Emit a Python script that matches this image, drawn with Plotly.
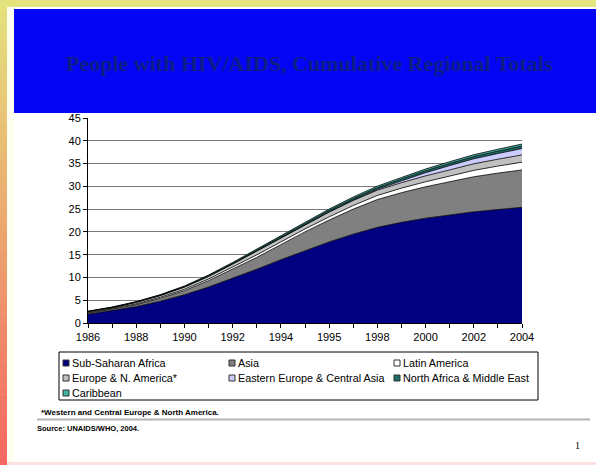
import plotly.graph_objects as go

# ---- data (millions of people living with HIV/AIDS) ----
years = list(range(1986, 2005))
tick_labels = ["1986", "", "1988", "", "1990", "", "1992", "", "1994", "",
               "1995", "", "1998", "", "2000", "", "2002", "", "2004"]

sub_saharan = [1.9, 2.7, 3.6, 4.8, 6.2, 7.9, 9.8, 11.8, 13.9, 15.9,
               17.8, 19.5, 21.0, 22.1, 23.0, 23.7, 24.4, 24.9, 25.4]
asia = [0.2, 0.3, 0.4, 0.6, 0.9, 1.4, 2.0, 2.6, 3.3, 4.1,
        4.8, 5.5, 6.1, 6.5, 6.9, 7.3, 7.7, 8.0, 8.2]
latin_america = [0.15, 0.15, 0.2, 0.25, 0.3, 0.35, 0.45, 0.55, 0.6, 0.65,
                 0.7, 0.8, 0.9, 1.0, 1.1, 1.25, 1.4, 1.55, 1.7]
europe_na = [0.25, 0.25, 0.35, 0.4, 0.5, 0.6, 0.7, 0.85, 0.95, 1.0,
             1.05, 1.1, 1.15, 1.2, 1.3, 1.35, 1.45, 1.5, 1.6]
eastern_europe = [0.0, 0.0, 0.0, 0.0, 0.0, 0.0, 0.0, 0.01, 0.02, 0.03,
                  0.05, 0.1, 0.2, 0.4, 0.7, 0.95, 1.1, 1.25, 1.4]
north_africa = [0.05, 0.05, 0.07, 0.08, 0.1, 0.13, 0.15, 0.19, 0.23, 0.26,
                0.3, 0.33, 0.35, 0.38, 0.42, 0.45, 0.48, 0.51, 0.54]
caribbean = [0.05, 0.05, 0.08, 0.1, 0.12, 0.15, 0.2, 0.22, 0.25, 0.28,
             0.3, 0.32, 0.34, 0.36, 0.38, 0.4, 0.41, 0.43, 0.44]

series_names = ["Sub-Saharan Africa", "Asia", "Latin America",
                "Europe & N. America*", "Eastern Europe & Central Asia",
                "North Africa & Middle East", "Caribbean"]
series_values = [sub_saharan, asia, latin_america, europe_na,
                 eastern_europe, north_africa, caribbean]
series_colors = ["#000080", "#808080", "#FFFFFF", "#C0C0C0",
                 "#CCCCFF", "#1E6B68", "#3FB3A4"]

W, H = 596, 465
L, R, T, B = 88, 522, 118, 323  # plot area in pixels


def px(x):
    return (x - L) / (R - L)


def py(y):
    return (B - y) / (B - T)


fig = go.Figure()
for name, vals, col in zip(series_names, series_values, series_colors):
    fig.add_trace(go.Scatter(
        x=years, y=vals, name=name, mode="lines", stackgroup="hiv",
        line=dict(color="black", width=0.8), fillcolor=col,
        showlegend=False, hoverinfo="x+y+name"))

shapes = []
# page decoration: top band, left gradient band, bottom band
shapes.append(dict(type="rect", xref="paper", yref="paper", layer="below",
                   x0=px(0), x1=px(W), y0=py(7), y1=py(0),
                   fillcolor="#E4E47E", line=dict(width=0)))
shapes.append(dict(type="rect", xref="paper", yref="paper", layer="below",
                   x0=px(7), x1=px(14), y0=py(H), y1=py(7),
                   fillcolor="#FDFDF0", line=dict(width=0)))
top_c, bot_c = (0xE4, 0xE2, 0x7C), (0xF4, 0x68, 0x62)
n_steps = 46
for i in range(n_steps):
    t = i / (n_steps - 1)
    c = tuple(round(a + (b - a) * t) for a, b in zip(top_c, bot_c))
    y0 = i * H / n_steps
    y1 = (i + 1) * H / n_steps + 0.5
    shapes.append(dict(type="rect", xref="paper", yref="paper", layer="below",
                       x0=px(0), x1=px(7), y0=py(y1), y1=py(y0),
                       fillcolor="rgb(%d,%d,%d)" % c, line=dict(width=0)))
shapes.append(dict(type="rect", xref="paper", yref="paper", layer="below",
                   x0=px(7), x1=px(W), y0=py(H), y1=py(462),
                   fillcolor="#FBE2DE", line=dict(width=0)))
# title banner
shapes.append(dict(type="rect", xref="paper", yref="paper", layer="below",
                   x0=px(14), x1=px(W + 2), y0=py(113), y1=py(9),
                   fillcolor="#0505F5", line=dict(width=0)))
# legend frame
shapes.append(dict(type="rect", xref="paper", yref="paper",
                   x0=px(59), x1=px(538), y0=py(400), y1=py(352),
                   fillcolor="white", line=dict(color="black", width=1)))
# footnote separator
shapes.append(dict(type="line", xref="paper", yref="paper",
                   x0=px(37), x1=px(590), y0=py(419.5), y1=py(419.5),
                   line=dict(color="#B4B4B4", width=2)))

annotations = [
    dict(text="<b>People with HIV/AIDS, Cumulative Regional Totals</b>",
         xref="paper", yref="paper", x=px(309), y=py(63),
         xanchor="center", yanchor="middle", showarrow=False,
         font=dict(family="Liberation Serif", size=22, color="#0D1F86")),
    dict(text="<b>*Western and Central Europe & North America.</b>",
         xref="paper", yref="paper", x=px(39), y=py(412),
         xanchor="left", yanchor="middle", showarrow=False,
         font=dict(family="Liberation Sans", size=8, color="black")),
    dict(text="<b>Source: UNAIDS/WHO, 2004.</b>",
         xref="paper", yref="paper", x=px(35), y=py(428),
         xanchor="left", yanchor="middle", showarrow=False,
         font=dict(family="Liberation Sans", size=7.5, color="black")),
    dict(text="1", xref="paper", yref="paper", x=px(577), y=py(445),
         xanchor="center", yanchor="middle", showarrow=False,
         font=dict(family="Liberation Serif", size=10, color="black")),
]

# legend entries: three columns, three rows
col_x = [63, 229, 394]
row_y = [363, 378, 393]
for i, (name, col) in enumerate(zip(series_names, series_colors)):
    cx = col_x[i % 3]
    cy = row_y[i // 3]
    shapes.append(dict(type="rect", xref="paper", yref="paper",
                       x0=px(cx), x1=px(cx + 6), y0=py(cy + 3), y1=py(cy - 3),
                       fillcolor=col, line=dict(color="#333333", width=1)))
    annotations.append(dict(text=name, xref="paper", yref="paper",
                            x=px(cx + 7), y=py(cy), xanchor="left",
                            yanchor="middle", showarrow=False,
                            font=dict(family="Liberation Sans", size=10.8,
                                      color="black")))

fig.update_layout(
    width=W, height=H,
    margin=dict(l=L, r=W - R, t=T, b=H - B, pad=0),
    paper_bgcolor="white", plot_bgcolor="white",
    shapes=shapes, annotations=annotations,
    showlegend=False,
    xaxis=dict(range=[1986, 2004], tickmode="array", tickvals=years,
               ticktext=tick_labels, ticks="outside", ticklen=4,
               tickcolor="black", showline=True, linecolor="black",
               linewidth=1, showgrid=False, zeroline=False,
               tickfont=dict(family="Liberation Sans", size=11, color="black")),
    yaxis=dict(range=[0, 45], tickmode="array",
               tickvals=[0, 5, 10, 15, 20, 25, 30, 35, 40, 45],
               ticks="outside", ticklen=4, tickcolor="black",
               showline=True, linecolor="black", linewidth=1,
               showgrid=True, gridcolor="#7A7A7A", gridwidth=1.4,
               zeroline=False,
               tickfont=dict(family="Liberation Sans", size=11, color="black")),
)

fig.write_html("out.html")
